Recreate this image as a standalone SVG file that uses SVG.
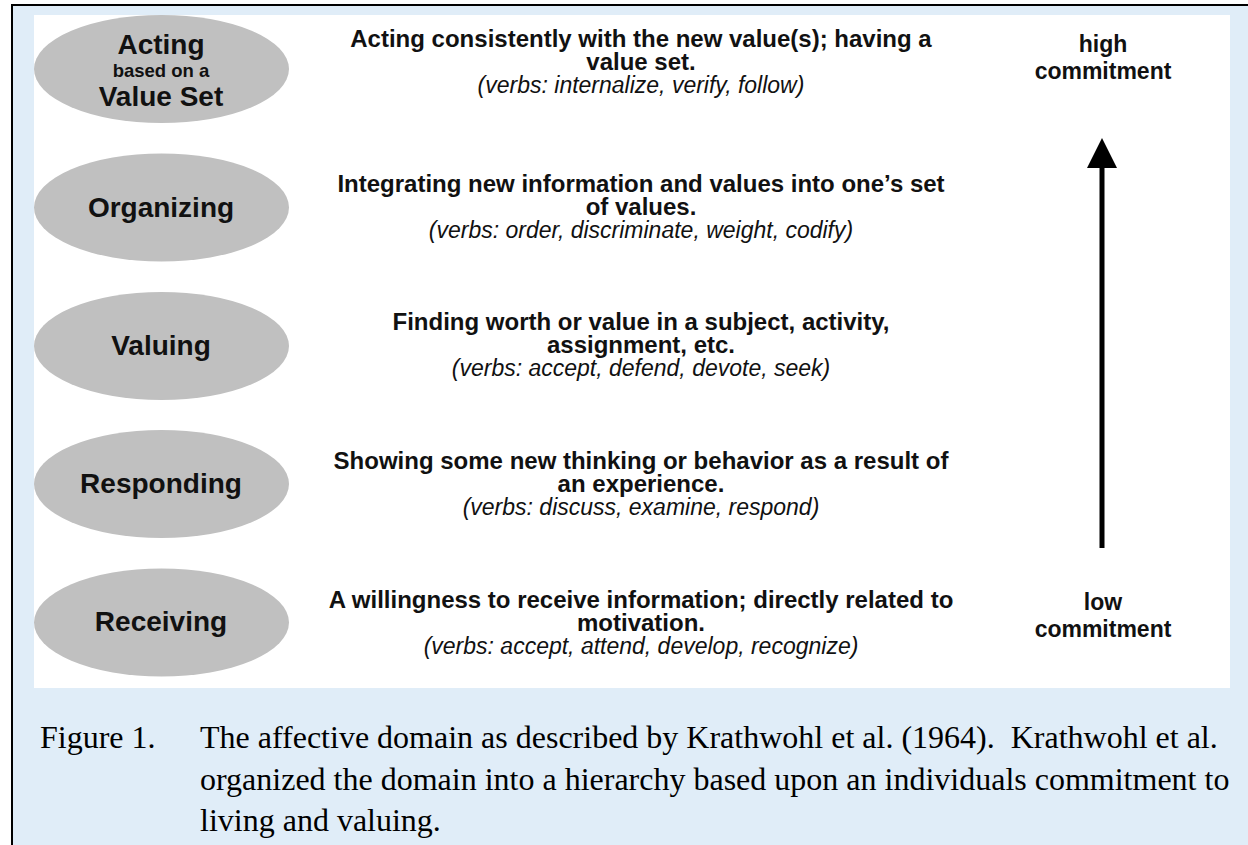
<svg xmlns="http://www.w3.org/2000/svg" width="1248" height="845" viewBox="0 0 1248 845">
<style>
.lbl{font-family:"Liberation Sans",Arial,sans-serif;font-weight:bold;fill:#111;text-anchor:middle}
.big{font-size:28px}
.small{font-size:18.5px}
.desc{font-family:"Liberation Sans",Arial,sans-serif;font-weight:bold;font-size:24px;fill:#111;text-anchor:middle}
.verbs{font-family:"Liberation Sans",Arial,sans-serif;font-style:italic;font-size:23px;fill:#111;text-anchor:middle}
.side{font-family:"Liberation Sans",Arial,sans-serif;font-weight:bold;font-size:23px;fill:#111;text-anchor:middle}
.cap{font-family:"Liberation Serif","Times New Roman",serif;font-size:32px;fill:#000}
.ell{fill:#c0c0c0}
</style>
<rect x="12" y="5" width="1236" height="840" fill="#e0edf8"/>
<path d="M12 845 V5 H1248" fill="none" stroke="#000" stroke-width="2"/>
<rect x="34" y="15" width="1196" height="673" fill="#fff"/>

<g id="node-acting">
<ellipse class="ell" cx="161.5" cy="69" rx="127.5" ry="54"/>
<text class="lbl big" x="161" y="54">Acting</text>
<text class="lbl small" x="161" y="77">based on a</text>
<text class="lbl big" x="161" y="106">Value Set</text>
</g>
<g id="node-organizing">
<ellipse class="ell" cx="161.5" cy="207.5" rx="127.5" ry="54"/>
<text class="lbl big" x="161" y="217">Organizing</text>
</g>
<g id="node-valuing">
<ellipse class="ell" cx="161.5" cy="346" rx="127.5" ry="54"/>
<text class="lbl big" x="161" y="355">Valuing</text>
</g>
<g id="node-responding">
<ellipse class="ell" cx="161.5" cy="484" rx="127.5" ry="54"/>
<text class="lbl big" x="161" y="493">Responding</text>
</g>
<g id="node-receiving">
<ellipse class="ell" cx="161.5" cy="622.5" rx="127.5" ry="54"/>
<text class="lbl big" x="161" y="631">Receiving</text>
</g>

<g id="desc-acting">
<text class="desc" x="641" y="47">Acting consistently with the new value(s); having a</text>
<text class="desc" x="641" y="70">value set.</text>
<text class="verbs" x="641" y="93">(verbs: internalize, verify, follow)</text>
</g>
<g id="desc-organizing">
<text class="desc" x="641" y="192">Integrating new information and values into one’s set</text>
<text class="desc" x="641" y="215">of values.</text>
<text class="verbs" x="641" y="238">(verbs: order, discriminate, weight, codify)</text>
</g>
<g id="desc-valuing">
<text class="desc" x="641" y="330">Finding worth or value in a subject, activity,</text>
<text class="desc" x="641" y="353">assignment, etc.</text>
<text class="verbs" x="641" y="376">(verbs: accept, defend, devote, seek)</text>
</g>
<g id="desc-responding">
<text class="desc" x="641" y="469">Showing some new thinking or behavior as a result of</text>
<text class="desc" x="641" y="492">an experience.</text>
<text class="verbs" x="641" y="515">(verbs: discuss, examine, respond)</text>
</g>
<g id="desc-receiving">
<text class="desc" x="641" y="608">A willingness to receive information; directly related to</text>
<text class="desc" x="641" y="631">motivation.</text>
<text class="verbs" x="641" y="654">(verbs: accept, attend, develop, recognize)</text>
</g>

<g id="high">
<text class="side" x="1103" y="52">high</text>
<text class="side" x="1103" y="79">commitment</text>
</g>
<g id="low">
<text class="side" x="1103" y="610">low</text>
<text class="side" x="1103" y="637">commitment</text>
</g>

<g id="connectors">
<line x1="1102" y1="548" x2="1102" y2="166" stroke="#000" stroke-width="5"/>
<polygon points="1102,138 1087,168 1117,168" fill="#000"/>
</g>

<g id="caption">
<text class="cap" x="40" y="748">Figure 1.</text>
<text class="cap" x="200" y="748">The affective domain as described by Krathwohl et al. (1964).&#160; Krathwohl et al.</text>
<text class="cap" x="200" y="790">organized the domain into a hierarchy based upon an individuals commitment to</text>
<text class="cap" x="200" y="831">living and valuing.</text>
</g>
</svg>
